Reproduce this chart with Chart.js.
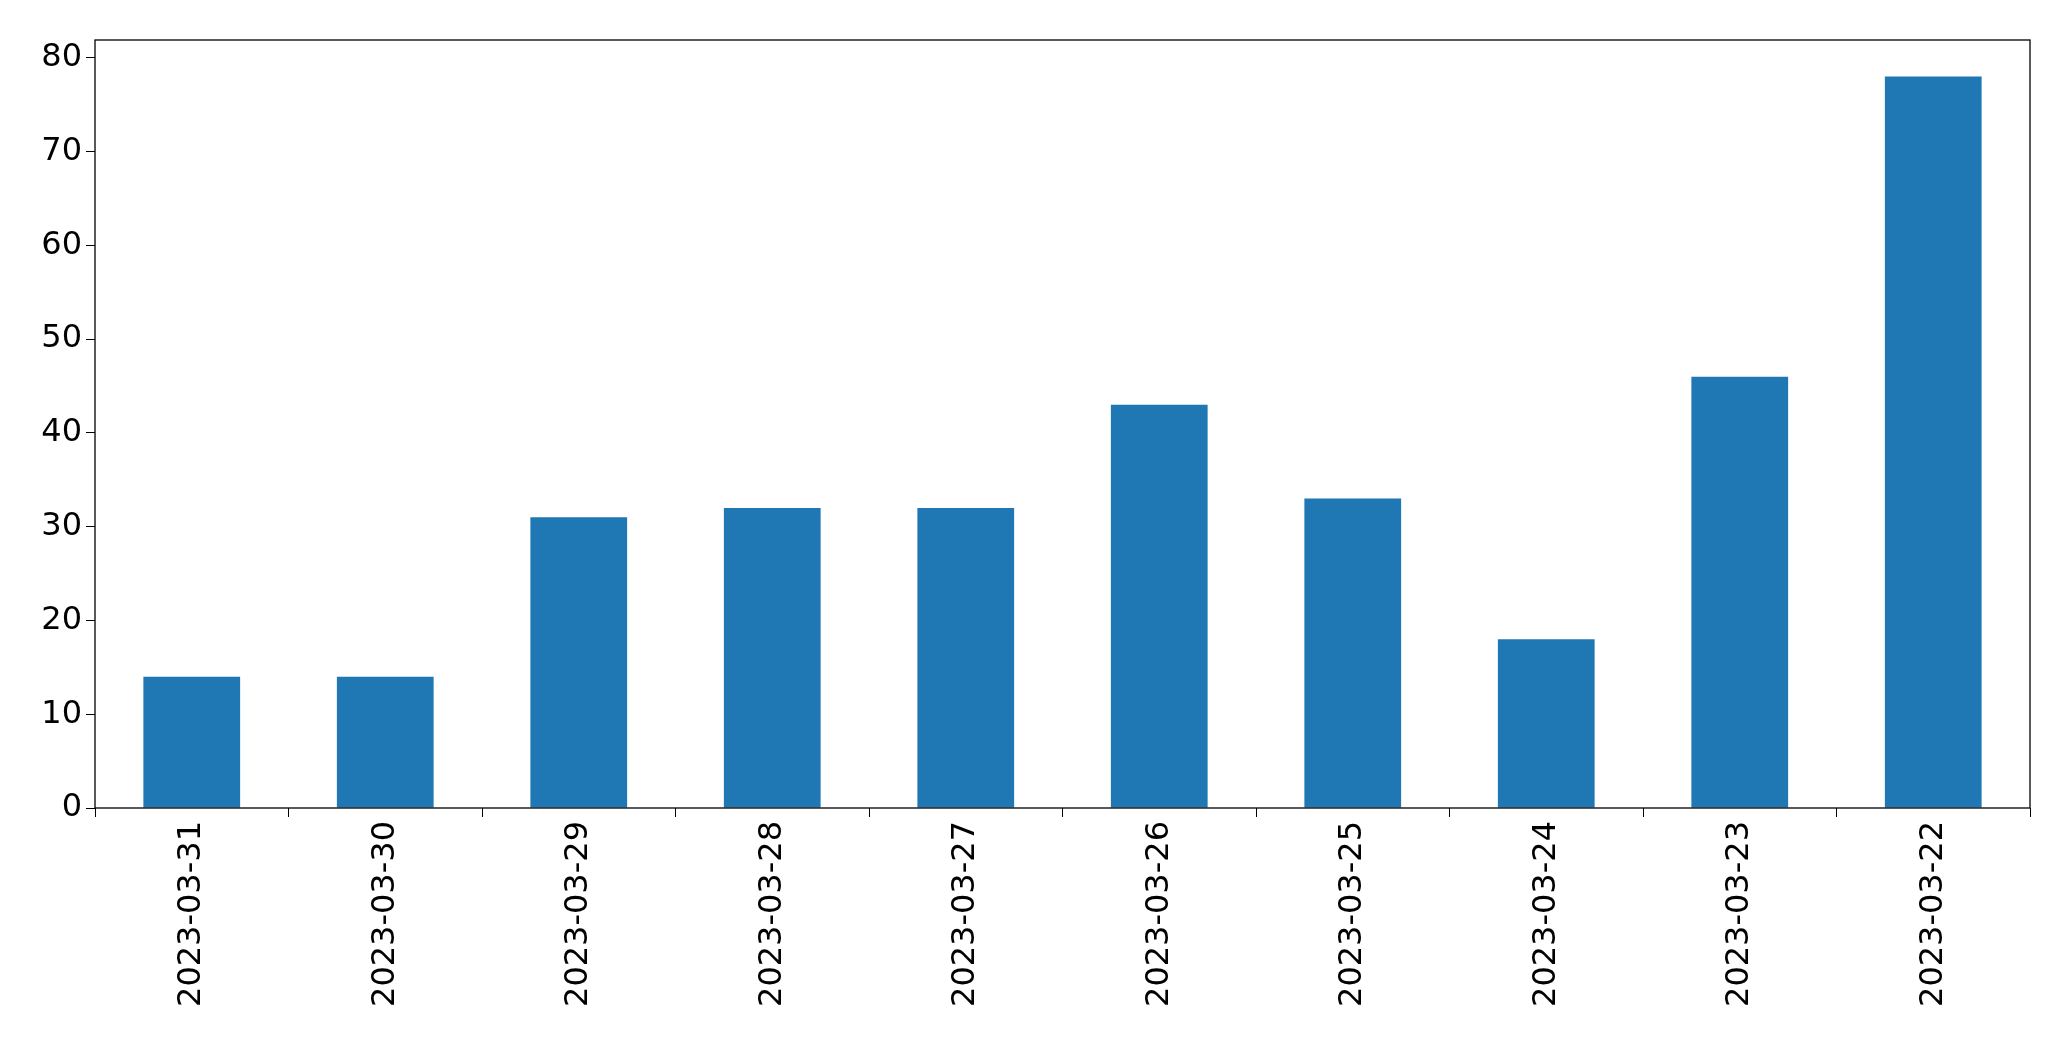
<!DOCTYPE html>
<html>
<head>
<meta charset="utf-8">
<script src="https://cdn.jsdelivr.net/npm/chart.js@4/dist/chart.umd.min.js"></script>
<style>
  html, body { margin: 0; padding: 0; background: #fff; }
  canvas { display: block; }
</style>
</head>
<body>
<canvas id="chart" width="2071" height="1061"></canvas>
<script>
// dates as shown on the x axis, newest first
const dates = ["2023-03-31", "2023-03-30", "2023-03-29", "2023-03-28", "2023-03-27",
               "2023-03-26", "2023-03-25", "2023-03-24", "2023-03-23", "2023-03-22"];
const counts = [14, 14, 31, 32, 32, 43, 33, 18, 46, 78];
const yTicks = [0, 10, 20, 30, 40, 50, 60, 70, 80];

// black box around the plot area, like matplotlib spines
const framePlugin = {
  id: "framePlugin",
  afterDraw: (chart) => {
    const { ctx, chartArea } = chart;
    ctx.save();
    ctx.strokeStyle = "#000";
    ctx.lineWidth = 1.3;
    ctx.strokeRect(chartArea.left, chartArea.top,
      chartArea.right - chartArea.left, chartArea.bottom - chartArea.top);
    ctx.restore();
  },
};

const font = { family: "DejaVu Sans", size: 32 };

new Chart(document.getElementById("chart").getContext("2d"), {
  type: "bar",
  data: {
    labels: dates,
    datasets: [{
      data: counts,
      backgroundColor: "#1f77b4",
      categoryPercentage: 1,
      barPercentage: 0.5,
    }],
  },
  options: {
    responsive: false,
    animation: false,
    layout: { padding: { left: 0, top: 40, right: 41, bottom: 0 } },
    plugins: { legend: { display: false }, tooltip: { enabled: false } },
    scales: {
      x: {
        grid: { drawOnChartArea: false, tickLength: 9, color: "#000" },
        border: { display: false },
        ticks: { color: "#000", font, maxRotation: 90, minRotation: 90, padding: 4 },
        afterFit: (axis) => { axis.height = 253; },
      },
      y: {
        min: 0,
        max: 81.9,
        grid: { drawOnChartArea: false, tickLength: 9, color: "#000" },
        border: { display: false },
        ticks: { color: "#000", font, padding: 4 },
        afterBuildTicks: (axis) => { axis.ticks = yTicks.map(v => ({ value: v })); },
        afterFit: (axis) => { axis.width = 95; },
      },
    },
  },
  plugins: [framePlugin],
});
</script>
</body>
</html>
